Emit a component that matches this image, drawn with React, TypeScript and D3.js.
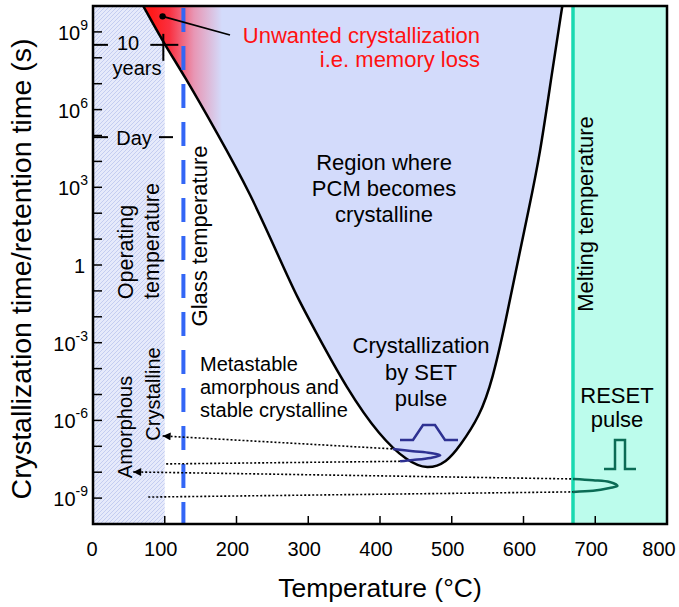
import React from 'react';
import * as d3 from 'd3';

const W = 679, H = 607;
const plot = { left: 93, right: 667, top: 6, bottom: 524 };

// temperature axis
const tempTicks = [0, 100, 200, 300, 400, 500, 600, 700, 800];
// time axis, exponents of 10 (seconds)
const decadeTicks = d3.range(-9, 10);
const labelledDecades = [-9, -6, -3, 0, 3, 6, 9];

const glassTemp = 126;
const meltTemp = 669;
const operatingMax = 100;

// crystallization boundary: [temperature °C, log10 time]
const boundary = [
  [64, 10.3], [70, 10], [100, 8.5], [125, 7.42], [173, 5.1], [219, 2.79],
  [265, -0.06], [285, -1.26], [307, -2.4], [354, -4.8], [400, -6.62],
  [438, -7.58], [466, -7.9], [493, -7.62], [511, -7.0], [539, -5.85],
  [557, -4.42], [575, -2.2], [591, 0], [607, 2.1], [623, 4.26], [639, 7.3],
  [654, 10], [656, 10.3],
];

// thermal profiles of the pulses: [temperature, log10 time]
const setProfile = [
  [418, -7.1], [446, -7.19], [470, -7.26], [484, -7.35], [470, -7.45], [446, -7.53], [428, -7.58],
];
const resetProfile = [
  [669, -8.26], [697, -8.31], [720, -8.38], [731, -8.53], [720, -8.61], [697, -8.72], [669, -8.76],
];

// dotted guide lines [[T0, e0], [T1, e1]], arrow at start when flagged
const guides = [
  { pts: [[97, -6.6], [418, -7.1]], arrow: true },
  { pts: [[102, -7.68], [428, -7.58]], arrow: false },
  { pts: [[56, -7.99], [669, -8.26]], arrow: true },
  { pts: [[77, -8.96], [669, -8.76]], arrow: false },
];

// pulse icon shapes (offsets in px)
const setIcon = [[-29, 0], [-16, 0], [-6, -15], [6, -15], [16, 0], [29, 0]];
const resetIcon = [[-16, 0], [-5, 0], [-5, -29], [5, -29], [5, 0], [16, 0]];

const tenYears = 8.5; // log10(3.15e8 s)
const oneDay = Math.log10(86400);

const font = '"Liberation Sans", Arial, Helvetica, sans-serif';

export default function App() {
  const x = d3.scaleLinear().domain([0, 800]).range([plot.left, plot.right]);
  const y = d3.scaleLog().domain([1e-10, 1e10]).range([plot.bottom, plot.top]);
  const ye = (e: number) => y(Math.pow(10, e));

  const curve = d3.line<number[]>().x(d => x(d[0])).y(d => ye(d[1])).curve(d3.curveBasis);
  const smooth = d3.line<number[]>().x(d => x(d[0])).y(d => ye(d[1])).curve(d3.curveCatmullRom);
  const straight = d3.line<number[]>().x(d => x(d[0])).y(d => ye(d[1]));

  const boundaryPath = curve(boundary) as string;
  const pH = plot.bottom - plot.top;

  const iconPath = (shape: number[][], cx: number, cy: number) =>
    d3.line()(shape.map(p => [cx + p[0], cy + p[1]]) as [number, number][]) as string;

  return (
    <svg width={W} height={H} style={{ position: 'absolute', left: 0, top: 0, background: '#fff' }}
      fontFamily={font}>
      <defs>
        <clipPath id="plotClip">
          <rect x={plot.left} y={plot.top} width={plot.right - plot.left} height={pH} />
        </clipPath>
        <pattern id="hatch" patternUnits="userSpaceOnUse" width={4} height={4}>
          <rect width={4} height={4} fill="#e6eafb" />
          <path d="M-1,1 L1,-1 M0,4 L4,0 M3,5 L5,3" stroke="#c4cdf1" strokeWidth={1} />
        </pattern>
        <linearGradient id="redFade" gradientUnits="userSpaceOnUse" x1={152} x2={222} y1={0} y2={0}>
          <stop offset="0" stopColor="#ff1a1a" />
          <stop offset="0.25" stopColor="#fa3040" />
          <stop offset="0.6" stopColor="#e896b4" />
          <stop offset="1" stopColor="#d3dbfb" />
        </linearGradient>
        <marker id="arrow" viewBox="0 0 10 10" refX={0} refY={5} markerUnits="userSpaceOnUse"
          markerWidth={9} markerHeight={8} orient="auto">
          <path d="M10,0 L0,5 L10,10 z" fill="#000" />
        </marker>
      </defs>

      <g clipPath="url(#plotClip)">
        {/* operating temperature band */}
        <rect x={x(0)} y={plot.top} width={x(operatingMax) - x(0)} height={pH} fill="url(#hatch)" />
        {/* above melting */}
        <rect x={x(meltTemp)} y={plot.top} width={x(800) - x(meltTemp)} height={pH} fill="#bcfcec" />
        {/* crystallization region */}
        <path d={boundaryPath + 'Z'} fill="url(#redFade)" />
        <path d={boundaryPath} fill="none" stroke="#000" strokeWidth={2.5} />

        <line x1={x(glassTemp)} x2={x(glassTemp)} y1={plot.top} y2={plot.bottom}
          stroke="#3366f6" strokeWidth={4} strokeDasharray="24 14" strokeDashoffset={-2} />
        <line x1={x(meltTemp)} x2={x(meltTemp)} y1={plot.top} y2={plot.bottom}
          stroke="#19d9b0" strokeWidth={3.5} />

        {guides.map((g, i) => (
          <path key={i} d={straight(g.pts) as string} fill="none" stroke="#000" strokeWidth={1.6}
            strokeDasharray="2 2" markerStart={g.arrow ? 'url(#arrow)' : undefined} />
        ))}

        <path d={smooth(setProfile) as string} fill="none" stroke="#2e3192" strokeWidth={2.5} />
        <path d={smooth(resetProfile) as string} fill="none" stroke="#0b6b55" strokeWidth={2.5} />

        <path d={iconPath(setIcon, 429, 440)} fill="none" stroke="#2e3192" strokeWidth={2.5} />
        <path d={iconPath(resetIcon, 620, 469)} fill="none" stroke="#0b6b55" strokeWidth={2.5} />

        {/* 10 years / day markers */}
        <line x1={plot.left} x2={plot.left + 15} y1={ye(tenYears)} y2={ye(tenYears)} stroke="#000" strokeWidth={2} />
        <line x1={x(98) - 13} x2={x(98) + 15} y1={ye(tenYears)} y2={ye(tenYears)} stroke="#000" strokeWidth={2} />
        <line x1={x(98)} x2={x(98)} y1={ye(tenYears) - 11} y2={ye(tenYears) + 16} stroke="#000" strokeWidth={2} />
        <line x1={plot.left} x2={plot.left + 15} y1={ye(oneDay)} y2={ye(oneDay)} stroke="#000" strokeWidth={2} />
        <line x1={159} x2={173} y1={ye(oneDay)} y2={ye(oneDay)} stroke="#000" strokeWidth={2} />

        {/* memory loss pointer */}
        <circle cx={x(97)} cy={ye(9.6)} r={3.2} fill="#000" />
        <line x1={x(97)} y1={ye(9.6)} x2={230} y2={35} stroke="#000" strokeWidth={1.8} />
      </g>

      {/* texts */}
      <g fontSize={20} fill="#000">
        <text x={128} y={ye(tenYears) + 5} textAnchor="middle">10</text>
        <text x={137} y={75} textAnchor="middle">years</text>
        <text x={134} y={ye(oneDay) + 8} textAnchor="middle">Day</text>
        <text transform="translate(133,252) rotate(-90)" textAnchor="middle" fontSize={21.5}>Operating</text>
        <text transform="translate(159,241) rotate(-90)" textAnchor="middle" fontSize={21.5}>temperature</text>
        <text transform="translate(207,236) rotate(-90)" textAnchor="middle" fontSize={22}>Glass temperature</text>
        <text transform="translate(593,214) rotate(-90)" textAnchor="middle" fontSize={22}>Melting temperature</text>
        <text transform="translate(160,394) rotate(-90)" textAnchor="middle">Crystalline</text>
        <text transform="translate(132,427) rotate(-90)" textAnchor="middle">Amorphous</text>
        <text x={200} y={371}>Metastable</text>
        <text x={200} y={394}>amorphous and</text>
        <text x={200} y={417}>stable crystalline</text>
      </g>
      <g fontSize={22} fill="#000" textAnchor="middle">
        <text x={384} y={170}>Region where</text>
        <text x={384} y={196}>PCM becomes</text>
        <text x={384} y={222}>crystalline</text>
        <text x={421} y={353}>Crystallization</text>
        <text x={421} y={380}>by SET</text>
        <text x={421} y={406}>pulse</text>
        <text x={617} y={403}>RESET</text>
        <text x={617} y={427}>pulse</text>
      </g>
      <g fontSize={22} fill="#ff1111" textAnchor="end">
        <text x={480} y={43}>Unwanted crystallization</text>
        <text x={480} y={67}>i.e. memory loss</text>
      </g>

      {/* frame and ticks */}
      <rect x={plot.left} y={plot.top} width={plot.right - plot.left} height={pH}
        fill="none" stroke="#000" strokeWidth={2.5} />
      {decadeTicks.map(e => (
        <line key={e} x1={plot.left} x2={plot.left + 9} y1={ye(e)} y2={ye(e)} stroke="#000" strokeWidth={1.5} />
      ))}
      {tempTicks.slice(1, -1).map(t => (
        <line key={t} x1={x(t)} x2={x(t)} y1={plot.bottom} y2={plot.bottom - 8} stroke="#000" strokeWidth={1.5} />
      ))}
      <g fontSize={20} fill="#000">
        {labelledDecades.map(e => (
          e === 0 ? (
            <text key={e} x={85} y={ye(e) + 8} textAnchor="end">1</text>
          ) : (
            <text key={e} x={88} y={ye(e) + 8} textAnchor="end">10<tspan dy={-10} fontSize={14}>{e}</tspan></text>
          )
        ))}
        {tempTicks.map(t => (
          <text key={t} x={x(t) - (t === 0 ? 1 : t === 800 ? 8 : 4)} y={556} textAnchor="middle">{t}</text>
        ))}
      </g>
      <text x={380} y={597} textAnchor="middle" fontSize={26.5}>Temperature (°C)</text>
      <text transform="translate(31,269) rotate(-90)" textAnchor="middle" fontSize={28.5}>
        Crystallization time/retention time (s)
      </text>
    </svg>
  );
}
